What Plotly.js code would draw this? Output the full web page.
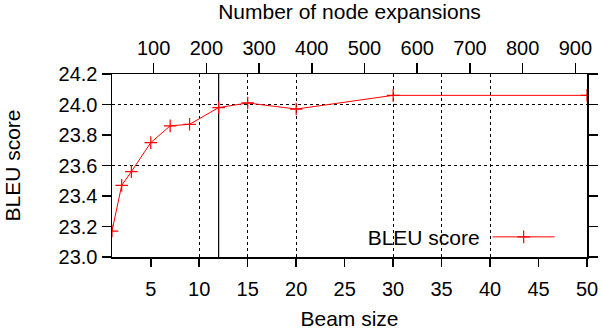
<!DOCTYPE html>
<html>
<head>
<meta charset="utf-8">
<script src="https://cdn.plot.ly/plotly-3.0.1.min.js"></script>
<style>
  body { margin: 0; background: #fff; }
  #bleu_chart { width: 602px; height: 330px; }
</style>
</head>
<body>
<div id="bleu_chart"></div>
<script>
// beam size vs BLEU
var beamSizes = [1, 2, 3, 5, 7, 9, 12, 15, 20, 30, 50];
var bleuScores = [23.17, 23.47, 23.56, 23.75, 23.86, 23.87, 23.98, 24.01, 23.97, 24.06, 24.06];

var beamTicks = [5, 10, 15, 20, 25, 30, 35, 40, 45, 50];
var expansionTicks = [100, 200, 300, 400, 500, 600, 700, 800, 900];
var bleuTicks = [23.0, 23.2, 23.4, 23.6, 23.8, 24.0, 24.2];

// dotted grid in the picture only sits at some places
var gridBeams = [10, 15, 20, 30, 35, 40];
var gridBleu = [23.6, 24.0];
var chosenBeam = 12;

var font = "Liberation Sans, Arial, sans-serif";

var trace = [{
  x: beamSizes,
  y: bleuScores,
  name: "",
  mode: "lines+markers",
  line: {color: "#ff0000", width: 1},
  marker: {symbol: "cross-thin", size: 9, line: {color: "#ff0000", width: 1.2}},
  showlegend: true
}];

var layout = {
  width: 602,
  height: 330,
  margin: {l: 112, r: 15, t: 74, b: 73},
  paper_bgcolor: "#fff",
  plot_bgcolor: "#fff",
  font: {family: font, size: 20, color: "#000"},
  showlegend: true,
  legend: {
    x: 0.955, y: 0.11, xanchor: "right", yanchor: "middle",
    bgcolor: "rgba(0,0,0,0)",
    itemwidth: 62,
    title: {text: "BLEU score", side: "left", font: {size: 21}},
    font: {size: 20}
  },
  xaxis: {
    range: [1, 50],
    tickvals: beamTicks,
    ticks: "outside", ticklen: 8, tickwidth: 1.5, tickcolor: "#000",
    ticklabelstandoff: 5,
    showline: true, linecolor: "#000", linewidth: 1.5,
    showgrid: false, zeroline: false,
    title: {text: "Beam size", standoff: 18, font: {size: 21}}
  },
  xaxis2: {
    overlaying: "x", side: "top", anchor: "y",
    range: [21, 922],
    tickvals: expansionTicks,
    ticks: "outside", ticklen: 10, tickwidth: 1.5, tickcolor: "#000",
    showline: true, linecolor: "#000", linewidth: 1.5,
    showgrid: false, zeroline: false,
    title: {text: "Number of node expansions", standoff: 12, font: {size: 21}}
  },
  xaxis3: {
    overlaying: "x", anchor: "y", range: [1, 50],
    tickvals: gridBeams, showticklabels: false, ticks: "",
    showgrid: true, gridcolor: "#000", gridwidth: 1, griddash: "dot",
    showline: false, zeroline: false
  },
  yaxis: {
    range: [23.0, 24.2],
    tickvals: bleuTicks, tickformat: ".1f",
    ticks: "outside", ticklen: 9, tickwidth: 1.5, tickcolor: "#000",
    showline: true, mirror: "ticks", linecolor: "#000", linewidth: 1.5,
    showgrid: false, zeroline: false,
    title: {text: "BLEU score", standoff: 32, font: {size: 21}}
  },
  yaxis2: {
    overlaying: "y", anchor: "x", range: [23.0, 24.2],
    tickvals: gridBleu, showticklabels: false, ticks: "",
    showgrid: true, gridcolor: "#000", gridwidth: 1, griddash: "dot",
    showline: false, zeroline: false
  },
  shapes: [{
    type: "line", xref: "x", yref: "paper",
    x0: chosenBeam, x1: chosenBeam, y0: 0, y1: 1,
    line: {color: "#000", width: 1.2}, layer: "below"
  }]
};

// invisible traces so the grid-only axes get drawn
var gridTraces = [
  {x: [], y: [], xaxis: "x3", yaxis: "y", showlegend: false, hoverinfo: "skip"},
  {x: [], y: [], xaxis: "x", yaxis: "y2", showlegend: false, hoverinfo: "skip"},
  {x: [], y: [], xaxis: "x2", yaxis: "y", showlegend: false, hoverinfo: "skip"}
];

Plotly.newPlot("bleu_chart", gridTraces.concat(trace), layout, {displayModeBar: false, staticPlot: true});
</script>
</body>
</html>
